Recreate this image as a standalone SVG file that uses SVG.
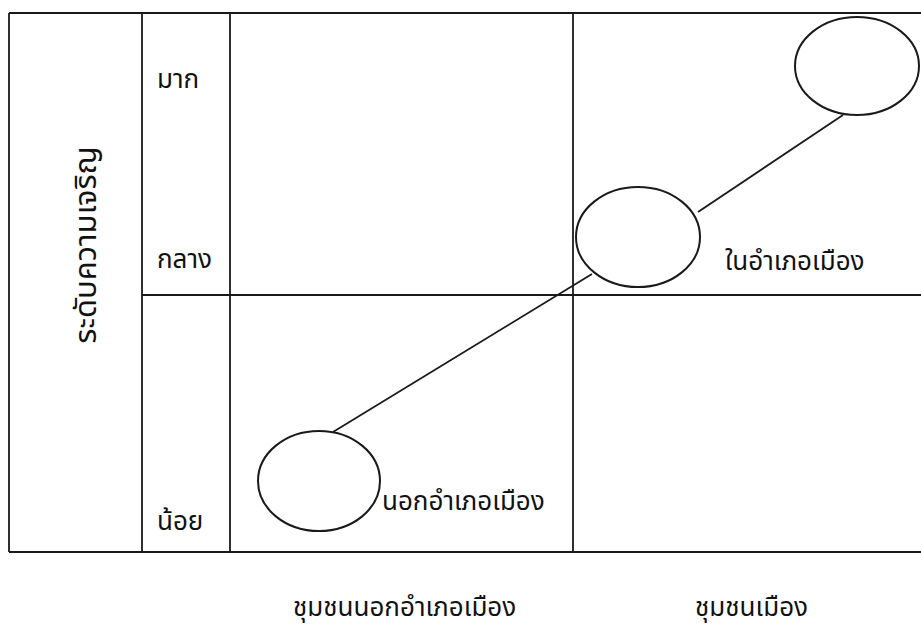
<svg xmlns="http://www.w3.org/2000/svg" width="921" height="628" viewBox="0 0 921 628">
<style>
.ln{stroke:#1a1a1a;stroke-width:1.8;fill:none}
.el{stroke:#1a1a1a;stroke-width:2;fill:#fff}
.t{font-family:"Noto Sans Thai","Noto Sans","DejaVu Sans",sans-serif;font-size:26px;fill:#111}
.v{font-size:31px}
</style>
<rect width="921" height="628" fill="#fff"/>
<g id="grid">
<path class="ln" d="M9 13H923M9 13V552M9 552H923M142 13V552M230 13V552M573 13V552M142 295H923"/>
</g>
<g id="connectors">
<line class="ln" x1="843" y1="115" x2="698" y2="212"/>
<line class="ln" x1="592" y1="274" x2="333" y2="432"/>
</g>
<g id="node-high"><ellipse class="el" cx="857" cy="66" rx="62" ry="49"/></g>
<g id="node-mid"><ellipse class="el" cx="638" cy="237" rx="62" ry="50"/><text class="t" x="725" y="270">ในอำเภอเมือง</text></g>
<g id="node-low"><ellipse class="el" cx="319" cy="481" rx="61" ry="50"/><text class="t" x="382" y="510">นอกอำเภอเมือง</text></g>
<g id="labels">
<text class="t" x="157" y="88">มาก</text>
<text class="t" x="157" y="268">กลาง</text>
<text class="t" x="157" y="530">น้อย</text>
<text class="t v" transform="translate(96,245) rotate(-90)" text-anchor="middle">ระดับความเจริญ</text>
<text class="t" x="293" y="616">ชุมชนนอกอำเภอเมือง</text>
<text class="t" x="695" y="616">ชุมชนเมือง</text>
</g>
</svg>
